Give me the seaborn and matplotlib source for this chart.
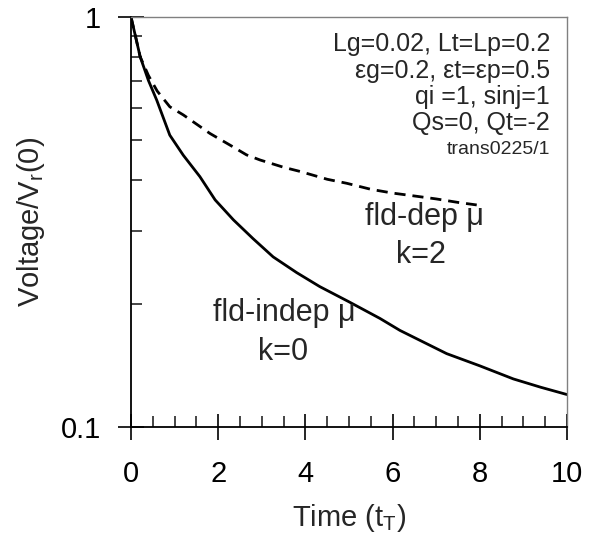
import numpy as np
import pandas as pd
import matplotlib
matplotlib.use("Agg")
import matplotlib.pyplot as plt
import seaborn as sns
from matplotlib.ticker import FixedLocator, MultipleLocator, NullFormatter

# field-independent mobility, k=0 (solid)
t_indep = [0, 0.1, 0.21, 0.4, 0.59, 0.89, 1.2, 1.58, 1.93, 2.35, 2.8, 3.26,
           3.8, 4.33, 5.0, 5.71, 6.17, 7.24, 8.0, 8.77, 9.4, 10]
v_indep = [1, 0.9, 0.80, 0.70, 0.627, 0.515, 0.46, 0.408, 0.358, 0.320, 0.288, 0.260,
           0.238, 0.220, 0.202, 0.184, 0.172, 0.151, 0.141, 0.131, 0.125, 0.120]

# field-dependent mobility, k=2 (dashed)
t_dep = [0, 0.1, 0.21, 0.4, 0.6, 0.89, 1.2, 1.81, 2.3, 2.65, 2.96, 3.5, 3.88,
         4.5, 4.95, 5.5, 6.0, 6.5, 7.0, 7.5, 7.93]
v_dep = [1, 0.9, 0.80, 0.72, 0.66, 0.604, 0.577, 0.520, 0.485, 0.461, 0.448, 0.43, 0.42,
         0.402, 0.393, 0.380, 0.372, 0.366, 0.360, 0.353, 0.348]

params = ["Lg=0.02, Lt=Lp=0.2", "\u03b5g=0.2, \u03b5t=\u03b5p=0.5",
          "qi =1, sinj=1", "Qs=0, Qt=-2"]
run_id = "trans0225/1"

sns.set_style("white")
plt.rcParams["font.family"] = ["Liberation Sans", "DejaVu Sans"]
plt.rcParams["mathtext.default"] = "regular"

fig = plt.figure(figsize=(5.96, 5.38), dpi=100)
ax = fig.add_axes([0.2198, 0.2063, 0.7315, 0.7621])

sns.lineplot(x=t_indep, y=v_indep, ax=ax, color="black", lw=2.0)
sns.lineplot(x=t_dep, y=v_dep, ax=ax, color="black", lw=2.0, linestyle=(0, (4, 2.5)))

ax.set_yscale("log")
ax.set_xlim(0, 10)
ax.set_ylim(0.1, 1)

ax.xaxis.set_major_locator(MultipleLocator(2))
ax.xaxis.set_minor_locator(MultipleLocator(0.5))
ax.yaxis.set_major_locator(FixedLocator([0.1, 1]))
ax.set_yticklabels(["0.1", "1"])
ax.yaxis.set_minor_locator(FixedLocator([0.2, 0.3, 0.4, 0.5, 0.6, 0.7, 0.8, 0.9]))
ax.yaxis.set_minor_formatter(NullFormatter())

ax.tick_params(which="major", direction="inout", length=19, width=1.2,
               labelsize=21, colors="black")
ax.tick_params(axis="x", which="major", pad=14)
ax.tick_params(axis="y", which="major", pad=12)
ax.tick_params(which="minor", direction="in", length=8, width=1.2)
ax.tick_params(axis="x", which="both", bottom=True)
ax.tick_params(axis="y", which="both", left=True)

for s in ["left", "bottom"]:
    ax.spines[s].set_color("black")
    ax.spines[s].set_linewidth(1.3)
for s in ["top", "right"]:
    ax.spines[s].set_color("#808080")
    ax.spines[s].set_linewidth(1.0)

ax.set_xlabel("Time (t$_T$)", fontsize=21)
ax.set_ylabel("Voltage/V$_r$(0)", fontsize=21)
ax.xaxis.set_label_coords(0.5, -0.183)
ax.yaxis.set_label_coords(-0.193, 0.5)

ys = [0.934, 0.868, 0.805, 0.741]
for txt, yy in zip(params, ys):
    ax.text(0.961, yy, txt, transform=ax.transAxes, ha="right", va="center", fontsize=18)
ax.text(0.961, 0.678, run_id, transform=ax.transAxes, ha="right", va="center", fontsize=14)

ax.text(6.74, 0.325, "fld-dep \u03bc", ha="center", va="center", fontsize=22)
ax.text(6.65, 0.263, "k=2", ha="center", va="center", fontsize=22)
ax.text(3.51, 0.190, "fld-indep \u03bc", ha="center", va="center", fontsize=22)
ax.text(3.49, 0.152, "k=0", ha="center", va="center", fontsize=22)

fig.savefig("out.png", dpi=100)
